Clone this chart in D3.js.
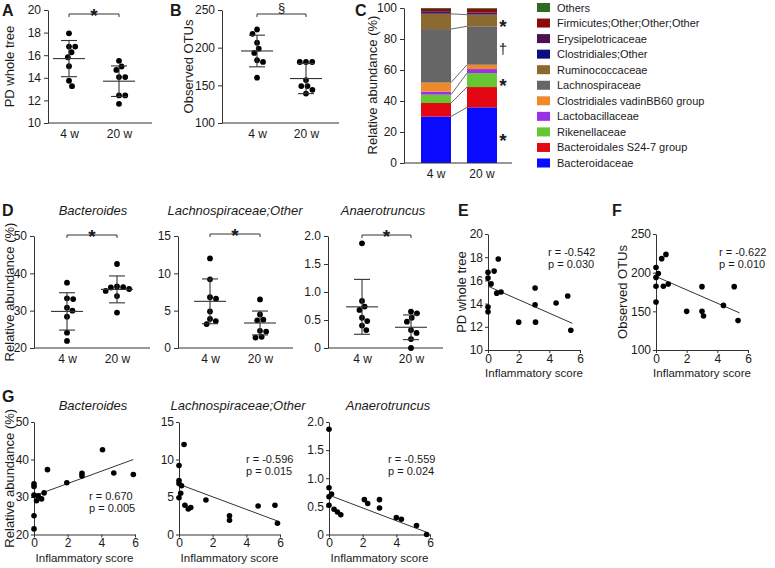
<!DOCTYPE html>
<html><head><meta charset="utf-8">
<script src="https://cdn.jsdelivr.net/npm/d3@7"></script>
<style>
body{margin:0;background:#fff}
svg{display:block}
text{font-family:"Liberation Sans",Arial,sans-serif;fill:#1a1a1a}
</style>
</head><body>
<svg id="c" width="775" height="568"></svg>
<script>
// ---------------- DATA ----------------
const groups = ["4 w", "20 w"];

// A: PD whole tree
const pd4w  = [17.94, 16.76, 16.76, 16.26, 15.82, 15.03, 13.74, 13.26];
const pd20w = [15.5, 15.0, 14.7, 14.06, 14.06, 12.44, 12.44, 11.7];
const pdMean = [15.7, 13.7];
const pdSD   = [1.6, 1.35];

// B: Observed OTUs
const otu4w  = [218.4, 224.1, 206.6, 193.0, 198.7, 183.3, 181.1, 160.1];
const otu20w = [181, 181, 181, 157, 149, 149, 144, 139];
const otuMean = [195.6, 159.0];
const otuSD   = [21, 20];

// C: relative abundance (bottom -> top)
const taxa = ["Bacteroidaceae", "Bacteroidales S24-7 group", "Rikenellaceae", "Lactobacillaceae",
  "Clostridiales vadinBB60 group", "Lachnospiraceae", "Ruminococcaceae", "Clostridiales;Other",
  "Erysipelotricaceae", "Firmicutes;Other;Other;Other", "Others"];
const taxaColors = ["#0a0aff", "#e30613", "#66c733", "#9b30e8", "#f0892a", "#666666",
  "#8c6a2f", "#0d0d80", "#4d1050", "#8b0a0a", "#2f6b1e"];
const abund4w  = [30.0, 8.7, 5.4, 2.0, 5.8, 34.5, 9.8, 0.4, 1.3, 1.5, 0.6];
const abund20w = [35.9, 13.1, 9.0, 2.6, 2.8, 24.8, 7.5, 0.3, 1.1, 2.4, 0.5];
const connectorIdx = [0, 1, 2, 4, 5, 6];
const cMarks = ["*", "\u2020", "*", "*"];
const cMarkLevels = [91, 74, 53.5, 18];

// D: genus-level dot plots
const bact4w  = [37.5, 33.1, 33.3, 30.8, 30.0, 28.4, 24.1, 21.9];
const bact20w = [42.5, 36.3, 35.8, 35.3, 36.2, 36.5, 33.9, 29.5];
const bactMean = [29.8, 35.7];
const bactSD   = [5.0, 3.6];

const lach4w  = [12.0, 9.2, 6.6, 6.8, 4.9, 3.9, 3.2, 3.6];
const lach20w = [6.5, 4.5, 3.8, 3.7, 2.3, 2.2, 1.5, 1.4];
const lachMean = [6.25, 3.35];
const lachSD   = [3.0, 1.6];

const anae4w  = [1.87, 0.84, 0.68, 0.74, 0.54, 0.48, 0.40, 0.32];
const anae20w = [0.62, 0.65, 0.54, 0.47, 0.32, 0.27, 0.16, 0.0];
const anaeMean = [0.735, 0.37];
const anaeSD   = [0.49, 0.22];

// E: PD whole tree vs inflammatory score
const eScore = [0, 0, 0.2, 0.4, 0.67, 0.57, 0.85, 3.07, 3.07, 4.44, 5.2, 0, 0, 2.0, 3.1, 5.4];
const eValue = [16.7, 16.2, 15.7, 16.8, 17.85, 14.9, 15.0, 15.35, 13.9, 14.05, 14.65, 13.7, 13.3, 12.4, 12.4, 11.7];
const eFit = [[0, 15.5], [5.5, 12.3]];
const eStats = ["r = -0.542", "p = 0.030"];

// F: Observed OTUs vs inflammatory score
const fScore = [0, 0, 0.15, 0, 0, 0.37, 0.65, 0.48, 0.8, 3.0, 5.1, 4.4, 2.0, 3.0, 5.35, 3.1];
const fValue = [206.6, 193.9, 199, 182.4, 162, 218.1, 223.6, 182.4, 185.3, 181.9, 181.9, 157.7, 150, 150, 138, 144];
const fFit = [[0, 195], [5.45, 148]];
const fStats = ["r = -0.622", "p = 0.010"];

// G: genus vs inflammatory score
const gBactScore = [0, 0, 0, 0, 0, 0.25, 0.45, 0.8, 1.95, 2.85, 2.85, 4.07, 4.74, 5.9, 0.15, 0.6];
const gBactValue = [33.5, 32.8, 30.5, 25.0, 21.5, 30.3, 29.5, 37.3, 33.8, 36.3, 35.6, 42.6, 36.4, 36.0, 29.0, 31.1];
const gBactFit = [[0, 30.3], [5.9, 40.0]];
const gBactStats = ["r = 0.670", "p = 0.005"];

const gLachScore = [0.3, 0, 0, 0.15, 0, 0.1, 0.35, 0.55, 0.7, 1.6, 3.0, 3.0, 4.7, 5.7, 5.85, 0];
const gLachValue = [12.0, 9.2, 6.8, 6.5, 4.9, 5.5, 3.9, 3.4, 3.6, 4.6, 2.5, 1.9, 3.8, 3.9, 1.5, 7.2];
const gLachFit = [[0, 6.7], [5.85, 1.8]];
const gLachStats = ["r = -0.596", "p = 0.015"];

const gAnaeScore = [0, 0, 0.15, 0, 0, 0.3, 0.5, 0.7, 2.1, 2.3, 3.0, 3.0, 4.0, 4.3, 5.2, 5.8];
const gAnaeValue = [1.87, 0.83, 0.72, 0.67, 0.52, 0.45, 0.40, 0.35, 0.62, 0.55, 0.47, 0.62, 0.30, 0.27, 0.16, 0.0];
const gAnaeFit = [[0, 0.70], [5.8, 0.04]];
const gAnaeStats = ["r = -0.559", "p = 0.024"];

// ---------------- DRAWING ----------------
const svg = d3.select("#c");
const AX = "#333";

function styleAxis(sel, fs) {
  sel.selectAll("path,line").attr("stroke", AX).attr("stroke-width", 1);
  sel.selectAll("text").attr("font-size", fs || 12).attr("fill", "#1a1a1a")
     .attr("font-family", '"Liberation Sans",Arial,sans-serif');
}
function rotLabel(x, y, txt, fs) {
  svg.append("text").attr("transform", `translate(${x},${y}) rotate(-90)`)
    .attr("text-anchor", "middle").attr("dominant-baseline", "central")
    .attr("font-size", fs || 13).text(txt);
}
function letter(x, y, t) {
  svg.append("text").attr("x", x).attr("y", y).attr("font-size", 16).attr("font-weight", "bold").text(t);
}
function title(x, y, t) {
  svg.append("text").attr("x", x).attr("y", y).attr("text-anchor", "middle")
    .attr("font-size", 13).attr("font-style", "italic").text(t);
}
const fmtAuto = d => d === 0 ? "0" : (Number.isInteger(d) ? String(d) : d3.format(".1f")(d));
const fmtDec = d => d === 0 ? "0" : d3.format(".1f")(d);

function swarm(vals, y, cx, d) {
  const order = vals.map((v, i) => i).sort((a, b) => vals[b] - vals[a]);
  const placed = [], out = [];
  for (const i of order) {
    const py = y(vals[i]);
    const cands = [cx];
    for (const p of placed) {
      const dy = Math.abs(p[1] - py);
      if (dy < d) { const dx = Math.sqrt(d * d - dy * dy) + 0.01; cands.push(p[0] + dx, p[0] - dx); }
    }
    cands.sort((a, b) => Math.abs(a - cx) - Math.abs(b - cx));
    let px = cx;
    for (const c of cands) {
      if (placed.every(p => Math.hypot(p[0] - c, p[1] - py) >= d - 0.02)) { px = c; break; }
    }
    placed.push([px, py]); out[i] = [px, py];
  }
  return out;
}

function sigMark(x0, x1, by, sym) {
  svg.append("path").attr("fill", "none").attr("stroke", "#333").attr("stroke-width", 1)
    .attr("d", `M${x0},${by + 3}V${by}H${x1}V${by + 3}`);
  const star = sym === "*";
  svg.append("text").attr("x", (x0 + x1) / 2).attr("y", star ? by + 8 : by - 2)
    .attr("text-anchor", "middle").attr("font-size", star ? 19 : 13)
    .attr("font-weight", star ? "bold" : "normal").text(sym);
}

function dotPanel(o) {
  const y = d3.scaleLinear().domain(o.domain).range([o.yB, o.yT]);
  const x = d3.scalePoint().domain(groups).range([o.cx0, o.cx1]);
  const ya = svg.append("g").attr("transform", `translate(${o.ax0},0)`)
    .call(d3.axisLeft(y).tickValues(o.ticks).tickSize(4).tickSizeOuter(0).tickPadding(3).tickFormat(o.fmt || fmtAuto));
  styleAxis(ya);
  svg.append("line").attr("x1", o.ax0).attr("x2", o.ax1).attr("y1", o.yB).attr("y2", o.yB)
    .attr("stroke", AX).attr("stroke-width", 1);
  const xa = svg.append("g").attr("transform", `translate(0,${o.yB})`)
    .call(d3.axisBottom(x).tickSize(0).tickPadding(6));
  xa.select(".domain").remove();
  styleAxis(xa);
  o.data.forEach((arr, gi) => {
    const pos = swarm(arr, y, x(groups[gi]), 6.2);
    svg.append("g").selectAll("circle").data(pos).join("circle")
      .attr("cx", d => d[0]).attr("cy", d => d[1]).attr("r", 2.9).attr("fill", "#000");
  });
  groups.forEach((g, gi) => {
    const cx = x(g), m = o.mean[gi], s = o.sd[gi];
    const eg = svg.append("g").attr("stroke", "#333").attr("stroke-width", 1.1);
    eg.append("line").attr("x1", cx).attr("x2", cx).attr("y1", y(m - s)).attr("y2", y(m + s));
    eg.append("line").attr("x1", cx - 16).attr("x2", cx + 16).attr("y1", y(m)).attr("y2", y(m));
    [m - s, m + s].forEach(v => eg.append("line").attr("x1", cx - 8).attr("x2", cx + 8).attr("y1", y(v)).attr("y2", y(v)));
  });
  if (o.sig) sigMark(x(groups[0]), x(groups[1]), o.sigY, o.sig);
  if (o.ylabel) rotLabel(o.labX, (o.yT + o.yB) / 2, o.ylabel);
  if (o.title) title(o.titleX, o.yT - 21, o.title);
}

function scatterPanel(o) {
  const y = d3.scaleLinear().domain(o.domain).range([o.yB, o.yT]);
  const x = d3.scaleLinear().domain([0, 6]).range([o.ax0, o.ax1]);
  const ya = svg.append("g").attr("transform", `translate(${o.ax0},0)`)
    .call(d3.axisLeft(y).tickValues(o.ticks).tickSize(3).tickSizeOuter(0).tickPadding(2).tickFormat(o.fmt || fmtAuto));
  styleAxis(ya);
  const xa = svg.append("g").attr("transform", `translate(0,${o.yB})`)
    .call(d3.axisBottom(x).tickValues([0, 2, 4, 6]).tickSize(3).tickSizeOuter(0).tickPadding(1).tickFormat(d3.format("d")));
  styleAxis(xa);
  svg.append("text").attr("x", (o.ax0 + o.ax1) / 2).attr("y", o.yB + 27).attr("text-anchor", "middle")
    .attr("font-size", 11.5).text("Inflammatory score");
  svg.append("line").attr("x1", x(o.fit[0][0])).attr("y1", y(o.fit[0][1]))
    .attr("x2", x(o.fit[1][0])).attr("y2", y(o.fit[1][1])).attr("stroke", "#333").attr("stroke-width", 1);
  svg.append("g").selectAll("circle").data(o.xs).join("circle")
    .attr("cx", d => x(d)).attr("cy", (d, i) => y(o.ys[i])).attr("r", 2.8).attr("fill", "#000");
  o.stats.forEach((s, i) => svg.append("text").attr("x", o.statX).attr("y", o.statY + i * 12)
    .attr("font-size", 11).text(s));
  if (o.ylabel) rotLabel(o.labX, (o.yT + o.yB) / 2, o.ylabel);
  if (o.title) title(o.titleX, o.yT - 12, o.title);
}

// ---- A ----
letter(2, 16, "A");
dotPanel({domain: [10, 20], ticks: [10, 12, 14, 16, 18, 20], yT: 10, yB: 123, ax0: 48, ax1: 152,
  cx0: 69, cx1: 119, data: [pd4w, pd20w], mean: pdMean, sd: pdSD, sig: "*", sigY: 14,
  ylabel: "PD whole tree", labX: 9});
// ---- B ----
letter(170, 16, "B");
dotPanel({domain: [100, 250], ticks: [100, 150, 200, 250], yT: 10, yB: 123, ax0: 222, ax1: 339,
  cx0: 257, cx1: 306, data: [otu4w, otu20w], mean: otuMean, sd: otuSD, sig: "\u00a7", sigY: 14,
  ylabel: "Observed OTUs", labX: 188});

// ---- C ----
letter(355, 16, "C");
(function () {
  const y = d3.scaleLinear().domain([0, 100]).range([163, 8]);
  const x = d3.scaleBand().domain(groups).range([421, 497]).paddingInner(0.348);
  const table = groups.map((g, gi) => {
    const row = {group: g};
    taxa.forEach((t, ti) => row[t] = (gi === 0 ? abund4w : abund20w)[ti]);
    return row;
  });
  const series = d3.stack().keys(taxa)(table);
  const ya = svg.append("g").attr("transform", "translate(404,0)")
    .call(d3.axisLeft(y).tickValues([0, 20, 40, 60, 80, 100]).tickSize(4).tickSizeOuter(0).tickPadding(3));
  styleAxis(ya);
  series.forEach((s, si) => {
    svg.append("g").attr("fill", taxaColors[si]).selectAll("rect").data(s).join("rect")
      .attr("x", d => x(d.data.group)).attr("width", x.bandwidth())
      .attr("y", d => y(d[1])).attr("height", d => y(d[0]) - y(d[1]));
  });
  connectorIdx.forEach(i => {
    const s = series[i];
    svg.append("line").attr("x1", x(groups[0]) + x.bandwidth()).attr("y1", y(s[0][1]))
      .attr("x2", x(groups[1])).attr("y2", y(s[1][1])).attr("stroke", "#444").attr("stroke-width", 0.8);
  });
  svg.append("line").attr("x1", 404).attr("x2", 512).attr("y1", 163).attr("y2", 163).attr("stroke", AX);
  const xa = svg.append("g").attr("transform", "translate(0,163)")
    .call(d3.axisBottom(x).tickSize(0).tickPadding(6));
  xa.select(".domain").remove();
  styleAxis(xa);
  cMarks.forEach((m, i) => svg.append("text").attr("x", 503).attr("y", y(cMarkLevels[i]))
    .attr("text-anchor", "middle").attr("dominant-baseline", "central")
    .attr("font-size", m === "*" ? 19 : 15).attr("font-weight", m === "*" ? "bold" : "normal")
    .attr("dy", m === "*" ? 5 : 0).text(m));
  rotLabel(372, 85, "Relative abundance (%)");
  const leg = taxa.map((t, i) => ({t, c: taxaColors[i]})).reverse();
  const ly = d3.scalePoint().domain(leg.map(d => d.t)).range([7.5, 163]);
  const lg = svg.append("g");
  lg.selectAll("rect").data(leg).join("rect").attr("x", 537).attr("width", 13)
    .attr("y", d => ly(d.t) - 4.5).attr("height", 9).attr("fill", d => d.c);
  lg.selectAll("text").data(leg).join("text").attr("x", 557).attr("y", d => ly(d.t))
    .attr("dominant-baseline", "central").attr("font-size", 11).text(d => d.t);
})();

// ---- D ----
letter(2, 216, "D");
dotPanel({domain: [20, 50], ticks: [20, 30, 40, 50], yT: 236, yB: 348, ax0: 34, ax1: 150,
  cx0: 67, cx1: 117, data: [bact4w, bact20w], mean: bactMean, sd: bactSD, sig: "*", sigY: 235,
  ylabel: "Relative abundance (%)", labX: 9, title: "Bacteroides", titleX: 93});
dotPanel({domain: [0, 15], ticks: [0, 5, 10, 15], yT: 236, yB: 348, ax0: 178, ax1: 293,
  cx0: 210, cx1: 260, data: [lach4w, lach20w], mean: lachMean, sd: lachSD, sig: "*", sigY: 234,
  title: "Lachnospiraceae;Other", titleX: 235});
dotPanel({domain: [0, 2], ticks: [0, 0.5, 1, 1.5, 2], fmt: fmtDec, yT: 236, yB: 348, ax0: 328, ax1: 443,
  cx0: 362, cx1: 411, data: [anae4w, anae20w], mean: anaeMean, sd: anaeSD, sig: "*", sigY: 235,
  title: "Anaerotruncus", titleX: 383});

// ---- E ----
letter(458, 216, "E");
scatterPanel({domain: [10, 20], ticks: [10, 12, 14, 16, 18, 20], yT: 234, yB: 350, ax0: 488, ax1: 580,
  xs: eScore, ys: eValue, fit: eFit, stats: eStats, statX: 548, statY: 256, ylabel: "PD whole tree", labX: 461});
// ---- F ----
letter(612, 216, "F");
scatterPanel({domain: [100, 250], ticks: [100, 150, 200, 250], yT: 234, yB: 350, ax0: 656, ax1: 748,
  xs: fScore, ys: fValue, fit: fFit, stats: fStats, statX: 719, statY: 256, ylabel: "Observed OTUs", labX: 622});

// ---- G ----
letter(2, 402, "G");
scatterPanel({domain: [20, 50], ticks: [20, 30, 40, 50], yT: 422, yB: 534.5, ax0: 34, ax1: 135,
  xs: gBactScore, ys: gBactValue, fit: gBactFit, stats: gBactStats, statX: 89, statY: 500,
  ylabel: "Relative abundance (%)", labX: 9, title: "Bacteroides", titleX: 93});
scatterPanel({domain: [0, 15], ticks: [0, 5, 10, 15], yT: 422, yB: 534.5, ax0: 179, ax1: 280,
  xs: gLachScore, ys: gLachValue, fit: gLachFit, stats: gLachStats, statX: 246, statY: 463,
  title: "Lachnospiraceae;Other", titleX: 238});
scatterPanel({domain: [0, 2], ticks: [0, 0.5, 1, 1.5, 2], fmt: fmtDec, yT: 422, yB: 534.5, ax0: 329, ax1: 430,
  xs: gAnaeScore, ys: gAnaeValue, fit: gAnaeFit, stats: gAnaeStats, statX: 388, statY: 463,
  title: "Anaerotruncus", titleX: 388});
</script>
</body></html>
